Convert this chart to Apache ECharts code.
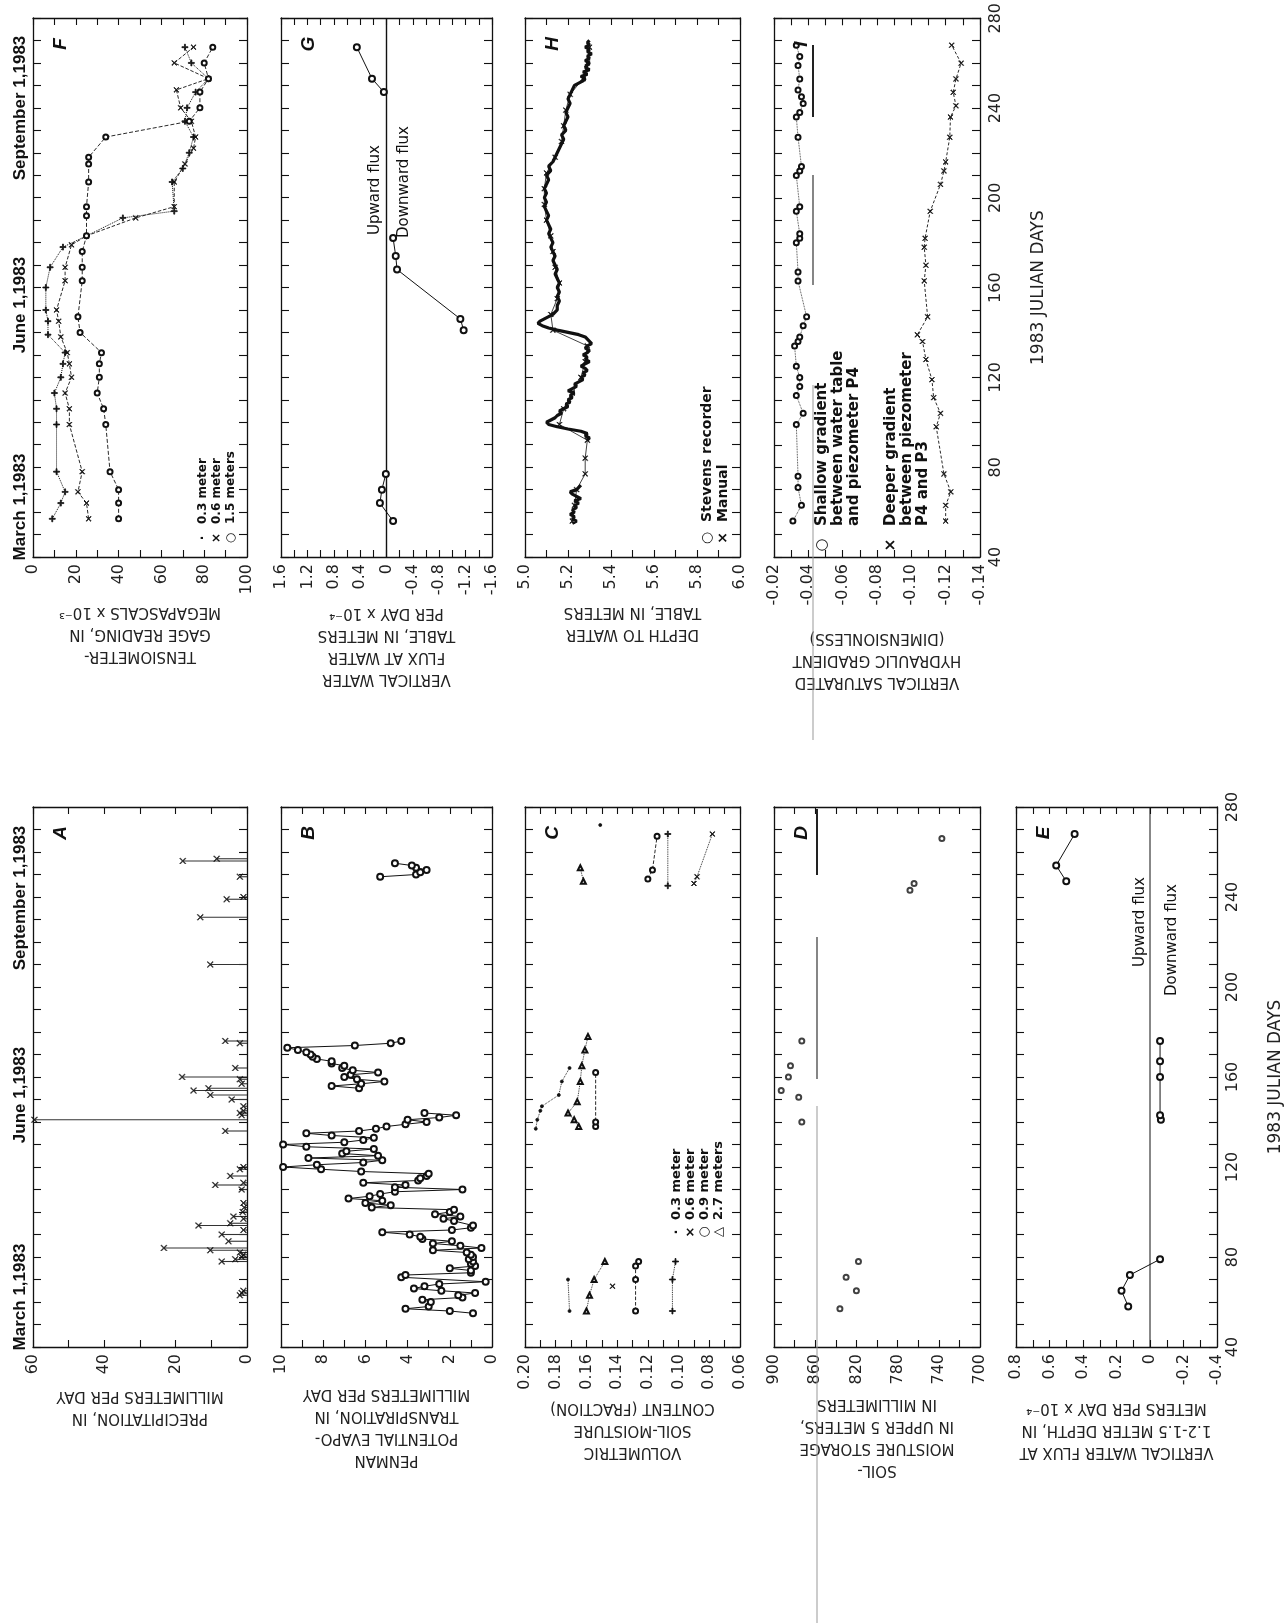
<!DOCTYPE html>
<html><head><meta charset="utf-8">
<script src="https://cdn.jsdelivr.net/npm/echarts@6/dist/echarts.min.js"></script>
<style>html,body{margin:0;padding:0;background:#fff}#c{width:1285px;height:1623px}</style>
</head><body><div id="c"></div>
<script>
// ---------------- DATA (pairs are [julianDay, value]; null = break in line) ----------------
const dayAxis = {min: 40, max: 280, step: 40};

// A  precipitation, mm/day
const precipA = [[63,2.0],[64,1.5],[65,1.0],[78,7.1],[79,3.3],[80,1.5],[81,1.0],[82,2.0],[83,10.3],[84,23.3],[87,5.2],[90,7.1],[92,1.0],[94,13.6],[95,4.7],[97,1.0],[98,3.8],[100,1.2],[102,0.8],[104,1.0],[110,1.5],[112,8.9],[113,1.0],[116,4.7],[119,2.0],[120,1.0],[136,6.1],[141,59.6],[143,1.5],[144,2.0],[145,1.0],[147,1.0],[150,4.3],[152,10.3],[154,15.0],[155,10.8],[157,1.5],[159,2.0],[160,18.2],[164,3.3],[175,2.0],[176,6.1],[210,10.3],[231,13.1],[239,5.7],[240,1.0],[249,2.0],[256,18.0],[257,8.5]];

// B  Penman potential evapotranspiration, mm/day
const penmanB = [[55,0.9],[56,2.0],[57,4.1],[58,3.0],[60,2.9],[61,3.3],[62,1.4],[63,1.6],[64,0.8],[65,2.4],[66,3.7],[67,3.2],[68,2.5],[69,0.3],[71,4.3],[72,4.1],[73,1.0],[74,1.0],[75,2.0],[76,0.8],[77,1.0],[78,0.9],[79,1.1],[80,0.9],[81,1.0],[82,1.2],[83,2.8],[84,0.5],[85,1.5],[86,2.8],[87,1.9],[88,3.3],[89,3.4],[90,3.9],[91,5.2],[92,1.9],[93,1.0],[94,0.9],
 [96,1.8],[97,2.3],[98,1.5],[99,2.7],[100,2.0],[101,1.8],[102,5.7],[103,4.8],[104,6.0],[105,5.2],[106,6.8],[107,5.8],[108,5.3],[109,4.6],[110,1.4],[111,4.6],[112,4.1],[113,6.1],[114,3.5],[115,3.4],[116,3.1],[117,3.0],[118,6.2],[119,8.1],[120,9.9],[121,8.3],[122,6.1],[123,5.2],[124,8.7],[125,5.4],[126,7.1],[127,6.9],[128,5.6],[129,8.8],[130,9.9],[131,7.0],[132,6.1],[133,5.6],[134,7.6],[135,8.8],[136,6.3],[137,5.5],[138,5.0],[139,4.1],[140,3.1],[141,4.0],[142,2.5],[143,1.7],[144,3.2],
 null,[155,6.3],[156,7.6],[157,6.2],[158,5.1],[159,6.4],[160,7.0],[161,6.7],[162,5.4],[163,6.6],[164,7.1],[165,7.0],[166,7.6],[167,7.6],[168,8.3],[169,8.5],[170,8.6],[171,8.8],[172,9.2],[173,9.7],[174,6.5],[175,4.8],[176,4.3],
 null,[249,5.3],[250,3.6],[251,3.4],[252,3.1],[253,3.6],[254,3.8],[255,4.6]];

// C  volumetric soil-moisture content (fraction)
const soilDot    = [[56,0.171],[70,0.172],null,[137,0.193],[141,0.192],[145,0.190],[147,0.189],[152,0.178],[158,0.176],[164,0.171],null,[272,0.151]];
const soilCross  = [[67,0.143],null,[246,0.090],[249,0.088],[268,0.078]];
const soilCircle = [[56,0.128],[70,0.128],[76,0.128],[78,0.126],null,[138,0.154],[140,0.154],[162,0.154],null,[248,0.120],[252,0.117],[267,0.114]];
const soilTri    = [[56,0.160],[63,0.158],[70,0.155],[78,0.148],null,[138,0.165],[141,0.168],[144,0.172],[149,0.166],[158,0.164],[165,0.163],[172,0.161],[178,0.159],null,[247,0.162],[253,0.164]];
const soilPlus   = [[56,0.104],[70,0.104],[78,0.102],null,[245,0.107],[268,0.107]];

// D  soil-moisture storage in upper 5 m, mm
const storageD = [[57,836],[65,820],[71,830],[78,818],[140,873],[151,876],[154,893],[160,886],[165,884],[176,873],[243,768],[246,764],[266,737]];

// E  vertical water flux at 1.2-1.5 m, m/day x 1e-4
const fluxE = [[58,0.13],[65,0.17],[72,0.12],[79,-0.06],null,[141,-0.065],[143,-0.06],[160,-0.06],[167,-0.06],[176,-0.06],null,[247,0.50],[254,0.56],[268,0.45]];

// F  tensiometer gage reading, MPa x 1e-3
const tens03 = [[57,9],[64,13],[69,15],[78,11],[99,11],[106,11],[113,10],[120,13],[126,14],[131,15],[139,7],[145,7],[150,6],[160,6],[169,8],[178,14],[183,25],[191,42],[194,66],[207,65],[213,70],[220,73],[227,75],[234,71],[240,72],[247,76],[253,82],[260,74],[267,71]];
const tens06 = [[57,26],[64,25],[69,21],[78,23],[99,17],[106,17],[113,15],[120,18],[126,17],[131,16],[138,13],[145,12],[150,11],[163,15],[169,15],[179,18],[183,25],[191,48],[196,66],[207,66],[215,71],[222,75],[227,76],[234,74],[240,69],[248,67],[253,82],[260,66],[267,75]];
const tens15 = [[57,40],[64,40],[70,40],[78,36],[99,34],[106,33],[113,30],[120,31],[126,31],[131,32],[140,22],[147,21],[163,23],[169,23],[176,23],[183,25],[192,25],[196,25],[207,26],[215,26],[218,26],[227,34],[234,73],[240,78],[247,78],[253,82],[260,80],[267,84]];

// G  vertical water flux at water table, m/day x 1e-4
const fluxG = [[56,-0.10],[64,0.10],[70,0.07],[77,0.01],null,[141,-1.17],[146,-1.12],[168,-0.16],[174,-0.14],[182,-0.10],null,[247,0.04],[253,0.22],[267,0.45]];

// H  depth to water table, m
const depthRecorder = [[55,5.22],[56,5.24],[57,5.22],[58,5.23],[59,5.21],[60,5.23],[61,5.22],[62,5.24],[63,5.23],[64,5.25],[65,5.23],[66,5.26],[67,5.24],[68,5.22],[69,5.21],[70,5.24],[71,5.25],[72,5.26],null,
 [92,5.29],[93,5.30],[94,5.28],[95,5.29],[96,5.26],[97,5.20],[98,5.15],[99,5.11],[100,5.10],[101,5.12],[102,5.14],[103,5.15],[104,5.17],[105,5.16],[106,5.18],[107,5.20],[108,5.19],[109,5.21],[110,5.20],[111,5.22],[112,5.21],[113,5.23],[114,5.20],[115,5.22],[116,5.24],[117,5.23],[118,5.25],[119,5.27],[120,5.26],[121,5.28],[122,5.27],[123,5.29],[124,5.28],[125,5.26],[126,5.28],[127,5.30],[128,5.28],[129,5.29],[130,5.27],[131,5.29],[132,5.30],[133,5.28],[134,5.29],[135,5.31],[136,5.30],[137,5.29],[138,5.28],[139,5.25],[140,5.20],[141,5.15],[142,5.11],[143,5.08],[144,5.06],[145,5.07],[146,5.09],[147,5.11],[148,5.13],[149,5.14],[150,5.15],[152,5.15],[154,5.16],[156,5.15],[158,5.16],[160,5.15],[162,5.16],[164,5.15],[166,5.14],[168,5.15],[170,5.14],[172,5.13],[174,5.14],[176,5.13],[178,5.12],[180,5.13],[182,5.12],[184,5.11],[186,5.12],[188,5.11],[190,5.10],[192,5.11],[194,5.10],[196,5.09],[198,5.10],[200,5.09],[202,5.10],[204,5.09],[206,5.10],[208,5.11],[210,5.10],[212,5.12],[214,5.11],[216,5.13],[218,5.14],[220,5.15],[222,5.16],[224,5.17],[226,5.18],[228,5.17],[230,5.19],[232,5.18],[234,5.19],[236,5.20],[238,5.19],[240,5.20],[242,5.21],[244,5.20],[246,5.21],[248,5.22],[250,5.23],[251,5.25],[252,5.27],[253,5.28],[254,5.26],[255,5.29],[256,5.27],[257,5.30],[258,5.28],[259,5.29],[260,5.30],[261,5.28],[262,5.30],[263,5.29],[264,5.31],[265,5.29],[266,5.30],[267,5.28],[268,5.30],[269,5.29],[270,5.30]];
const depthManual = [[56,5.22],[63,5.23],[70,5.24],[77,5.28],[84,5.28],[92,5.29],[99,5.16],[106,5.18],[113,5.22],[120,5.26],[127,5.28],[134,5.29],[141,5.13],[148,5.12],[155,5.15],[162,5.16],[169,5.14],[176,5.13],[183,5.12],[190,5.10],[197,5.09],[204,5.09],[211,5.10],[218,5.14],[225,5.17],[232,5.18],[239,5.19],[246,5.21],[253,5.27],[260,5.29],[267,5.30]];

// I  vertical saturated hydraulic gradient
const gradShallow = [[56,-0.031],[63,-0.036],[71,-0.034],[76,-0.034],[99,-0.033],[104,-0.037],[112,-0.033],[116,-0.035],[120,-0.035],[125,-0.033],[134,-0.032],[136,-0.034],[138,-0.035],[143,-0.037],[147,-0.039],[163,-0.034],[167,-0.034],[180,-0.033],[182,-0.035],[184,-0.035],[194,-0.033],[196,-0.035],[210,-0.033],[212,-0.035],[214,-0.036],[227,-0.034],[236,-0.033],[238,-0.035],[242,-0.037],[245,-0.036],[248,-0.034],[253,-0.035],[259,-0.034],[263,-0.035],[268,-0.033]];
const gradDeep = [[56,-0.120],[63,-0.120],[69,-0.123],[77,-0.119],[98,-0.1145],[104,-0.117],[111,-0.113],[119,-0.112],[128,-0.1085],[136,-0.1065],[139,-0.1035],[147,-0.1095],[163,-0.1075],[170,-0.1085],[178,-0.1075],[182,-0.108],[194,-0.111],[206,-0.117],[212,-0.119],[216,-0.120],[227,-0.1224],[236,-0.1228],[241,-0.126],[247,-0.1244],[253,-0.126],[260,-0.129],[268,-0.1235]];

const zeroLine = [[40,0],[280,0]];

// ---------------- LAYOUT ----------------
const INK = '#111';
const COLS = [[33,247],[281,492],[525,740],[774,980],[1016,1222]];
const ROWY = {top:[18,557], bottom:[807,1347]};
const FONT = '"DejaVu Sans", sans-serif';

const panels = [
 {key:'A', row:'bottom', col:0, min:0, max:60, step:20, minor:2, inverse:true, dec:0, gap:38,
  name:'PRECIPITATION, IN\nMILLIMETERS PER DAY'},
 {key:'B', row:'bottom', col:1, min:0, max:10, step:2, minor:2, inverse:true, dec:0, gap:36,
  name:'PENMAN\nPOTENTIAL EVAPO-\nTRANSPIRATION, IN\nMILLIMETERS PER DAY'},
 {key:'C', row:'bottom', col:2, min:0.06, max:0.20, step:0.02, minor:2, inverse:true, dec:2, gap:50,
  name:'VOLUMETRIC\nSOIL-MOISTURE\nCONTENT (FRACTION)'},
 {key:'D', row:'bottom', col:3, min:700, max:900, step:20, minor:0, inverse:true, dec:0, gap:46, every:40,
  name:'SOIL-\nMOISTURE STORAGE\nIN UPPER 5 METERS,\nIN MILLIMETERS'},
 {key:'E', row:'bottom', col:4, min:-0.4, max:0.8, step:0.2, minor:2, inverse:true, dec:1, gap:50, days:true,
  name:'VERTICAL WATER FLUX AT\n1.2-1.5 METER DEPTH, IN\nMETERS PER DAY x 10\u207B\u2074'},
 {key:'F', row:'top', col:0, min:0, max:100, step:20, minor:2, inverse:false, dec:0, gap:44,
  name:'TENSIOMETER-\nGAGE READING, IN\nMEGAPASCALS x 10\u207B\u00B3'},
 {key:'G', row:'top', col:1, min:-1.6, max:1.6, step:0.4, minor:2, inverse:true, dec:1, gap:45,
  name:'VERTICAL WATER\nFLUX AT WATER\nTABLE, IN METERS\nPER DAY x 10\u207B\u2074'},
 {key:'H', row:'top', col:2, min:5, max:6, step:0.2, minor:2, inverse:false, dec:1, gap:44,
  name:'DEPTH TO WATER\nTABLE, IN METERS'},
 {key:'I', row:'top', col:3, min:-0.14, max:-0.02, step:0.02, minor:2, inverse:true, dec:2, gap:70, days:true,
  name:'VERTICAL SATURATED\nHYDRAULIC GRADIENT\n(DIMENSIONLESS)'}
];
const PI = {}; panels.forEach((p,i)=>PI[p.key]=i);

const axisLineStyle = {color: INK, width: 1.3};
const tickStyle = {color: INK, width: 1.1};

const grids = [], xAxes = [], yAxes = [];
panels.forEach((p, i) => {
  const c = COLS[p.col], r = ROWY[p.row];
  grids.push({left: c[0], top: r[0], width: c[1]-c[0], height: r[1]-r[0], containLabel: false});
  const fmt = v => {
    if (p.every && Math.round(v - p.min) % p.every !== 0) return '';
    if (Math.abs(v) < 1e-9) return '0';
    return (p.key === 'G' || p.key === 'E') ? String(Math.round(v*10)/10) : v.toFixed(p.dec);
  };
  const base = {type:'value', gridIndex:i, min:p.min, max:p.max, interval:p.step, inverse:p.inverse,
    axisLine:{show:true, onZero:false, lineStyle:axisLineStyle},
    axisTick:{show:true, inside:true, length:7, lineStyle:tickStyle},
    minorTick:{show:p.minor>0, splitNumber:p.minor||2, length:7, lineStyle:tickStyle},
    splitLine:{show:false}, minorSplitLine:{show:false}};
  xAxes.push(Object.assign({}, base, {position:'bottom',
    axisLabel:{show:true, rotate:90, margin:7, fontSize:16, color:'#222', fontFamily:FONT, formatter:fmt, showMinLabel:true, showMaxLabel:true},
    name:p.name, nameLocation:'middle', nameRotate:180, nameGap:p.gap,
    nameTextStyle:{fontSize:15, lineHeight:22, color:'#222', fontFamily:FONT, align:'center'}}));
  xAxes.push(Object.assign({}, base, {position:'top', axisLabel:{show:false}}));
  const ybase = {type:'value', gridIndex:i, min:dayAxis.min, max:dayAxis.max, interval:dayAxis.step,
    axisLine:{show:true, onZero:false, lineStyle:axisLineStyle},
    axisTick:{show:true, inside:true, length:8, lineStyle:tickStyle},
    minorTick:{show:true, splitNumber:4, length:8, lineStyle:tickStyle},
    splitLine:{show:false}};
  yAxes.push(Object.assign({}, ybase, {position:'left', axisLabel:{show:false}}));
  yAxes.push(Object.assign({}, ybase, {position:'right',
    axisLabel:{show:!!p.days, rotate:90, margin:8, fontSize:16, color:'#222', fontFamily:FONT, showMinLabel:true, showMaxLabel:true},
    name:p.days ? '1983 JULIAN DAYS' : '', nameLocation:'middle', nameRotate:90, nameGap:50,
    nameTextStyle:{fontSize:17, color:'#222', fontFamily:FONT}}));
});

// ---------------- SERIES ----------------
const PLUS = 'path://M4.2,0H5.8V4.2H10V5.8H5.8V10H4.2V5.8H0V4.2H4.2Z';
const CROSS = 'path://M0.8,0L5,4.2L9.2,0L10,0.8L5.8,5L10,9.2L9.2,10L5,5.8L0.8,10L0,9.2L4.2,5L0,0.8Z';

function segments(arr){
  const out = []; let cur = [];
  arr.forEach(p => { if (p === null) { if (cur.length) out.push(cur); cur = []; } else cur.push([p[1], p[0]]); });
  if (cur.length) out.push(cur);
  return out;
}
const series = [];
function addLine(key, arr, o){
  const i = PI[key];
  segments(arr).forEach(seg => {
    series.push({type:'line', xAxisIndex:i*2, yAxisIndex:i*2, data:seg, animation:false, silent:true,
      symbol:o.symbol || 'emptyCircle', symbolSize:o.size || 6, showSymbol:o.symbol !== 'none',
      lineStyle:{color:INK, width:o.width==null?0.9:o.width, type:o.dash||'solid'},
      itemStyle:{color:INK, borderColor:INK, borderWidth:o.bw==null?0.8:o.bw}, z:o.z||2});
  });
}
function addScatter(key, arr, o){
  const i = PI[key];
  series.push({type:'scatter', xAxisIndex:i*2, yAxisIndex:i*2, data:segments(arr).flat(), animation:false, silent:true,
    symbol:o.symbol||'emptyCircle', symbolSize:o.size||6, itemStyle:{color:INK, borderColor:INK, borderWidth:0.8}});
}

// A bars + x markers
series.push({type:'custom', coordinateSystem:'cartesian2d', xAxisIndex:PI.A*2, yAxisIndex:PI.A*2,
  data: precipA.map(p => [p[1], p[0]]), animation:false, silent:true,
  renderItem: (params, api) => {
    const v = api.value(0), d = api.value(1);
    const a = api.coord([0, d]), b = api.coord([v, d]);
    return {type:'line', shape:{x1:a[0], y1:a[1], x2:b[0], y2:b[1]}, style:{stroke:'#333', lineWidth:1.1}};
  }});
addScatter('A', precipA, {symbol:CROSS, size:6});

// B
addLine('B', penmanB, {symbol:'emptyCircle', size:6, width:1});

// C
addLine('C', soilDot, {symbol:'circle', size:3, dash:'dotted', width:0.9});
addLine('C', soilCross, {symbol:CROSS, size:5, dash:'dotted', width:0.9});
addLine('C', soilCircle, {symbol:'emptyCircle', size:5, dash:'dashed', width:0.9});
addLine('C', soilTri, {symbol:'emptyTriangle', size:5, dash:'dotted', width:0.9});
addLine('C', soilPlus, {symbol:PLUS, size:6, dash:'dotted', width:0.9});

// D
addScatter('D', storageD, {symbol:'emptyCircle', size:5});

// E
addLine('E', zeroLine, {symbol:'none', width:1});
addLine('E', fluxE, {symbol:'emptyCircle', size:6, width:1});

// F
addLine('F', tens03, {symbol:PLUS, size:6, dash:'dotted', width:1});
addLine('F', tens06, {symbol:CROSS, size:5, dash:'dashed', width:0.9});
addLine('F', tens15, {symbol:'emptyCircle', size:5, dash:[4,2], width:0.9});

// G
addLine('G', zeroLine, {symbol:'none', width:1.4});
addLine('G', fluxG, {symbol:'emptyCircle', size:6, width:1});

// H
addLine('H', depthManual, {symbol:CROSS, size:5, width:0.8});
addLine('H', depthRecorder, {symbol:'none', width:3.2, z:3});

// I
addLine('I', gradShallow, {symbol:'emptyCircle', size:5, dash:'dotted', width:0.8});
addLine('I', gradDeep, {symbol:CROSS, size:5, dash:[3,2], width:0.9});

// ---------------- ANNOTATIONS ----------------
function vtext(x, y, text, font, align){
  return {type:'text', x:x, y:y, rotation:Math.PI/2, silent:true, z:10,
    style:{text:text, font:font, fill:INK, align:align||'center', verticalAlign:'middle', textAlign:align||'center', textVerticalAlign:'middle'}};
}
const BOLD = 'bold 17px "Liberation Sans", sans-serif';
const LEG_F = 'bold 12px "DejaVu Sans", sans-serif';
const LEG_H = 'bold 14px "DejaVu Sans", sans-serif';
const LEG_I = 'bold 15px "DejaVu Sans", sans-serif';
const LEG_C = 'bold 13px "DejaVu Sans", sans-serif';
const LETTER = 'italic bold 19px "Liberation Sans", sans-serif';
const FLUX = '15px "DejaVu Sans", sans-serif';
const graphic = [];
[0, 790].forEach(off => {
  graphic.push(vtext(20, 507+off, 'March 1,1983', BOLD));
  graphic.push(vtext(20, 305+off, 'June 1,1983', BOLD));
  graphic.push(vtext(20, 108+off, 'September 1,1983', BOLD));
});
panels.forEach(p => {
  const c = COLS[p.col], r = ROWY[p.row];
  graphic.push(vtext(c[0]+28, r[0]+26, p.key, LETTER));
});
// F legend
[['\u00B7', '0.3 meter'], ['\u00D7', '0.6 meter'], ['\u25CB', '1.5 meters']].forEach((l, k) => {
  graphic.push(vtext(203+k*14, 538, l[0], LEG_F));
  graphic.push(vtext(203+k*14, 524, l[1], LEG_F, 'left'));
});
// H legend
graphic.push(vtext(707, 538, '\u25CB', LEG_H)); graphic.push(vtext(707, 522, 'Stevens recorder', LEG_H, 'left'));
graphic.push(vtext(723, 538, '\u00D7', LEG_H)); graphic.push(vtext(723, 522, 'Manual', LEG_H, 'left'));
// I legend
graphic.push(vtext(822, 545, '\u25CB', LEG_I));
['Shallow gradient','between water table','and piezometer P4'].forEach((t,k)=>graphic.push(vtext(822+k*16, 526, t, LEG_I, 'left')));
graphic.push(vtext(891, 545, '\u00D7', LEG_I));
['Deeper gradient','between piezometer','P4 and P3'].forEach((t,k)=>graphic.push(vtext(891+k*16, 526, t, LEG_I, 'left')));
// C legend
[['\u00B7','0.3 meter'],['\u00D7','0.6 meter'],['\u25CB','0.9 meter'],['\u25B3','2.7 meters']].forEach((l,k)=>{
  graphic.push(vtext(677+k*14, 1232, l[0], LEG_C));
  graphic.push(vtext(677+k*14, 1220, l[1], LEG_C, 'left'));
});
// flux labels
graphic.push(vtext(375, 235, 'Upward flux', FLUX, 'left'));
graphic.push(vtext(404, 238, 'Downward flux', FLUX, 'left'));
graphic.push(vtext(1140, 967, 'Upward flux', FLUX, 'left'));
graphic.push(vtext(1172, 996, 'Downward flux', FLUX, 'left'));
// scan fold line running through the page
function vline(x, y1, y2, w, col){ return {type:'line', silent:true, z:9, shape:{x1:x, y1:y1, x2:x, y2:y2}, style:{stroke:col, lineWidth:w}}; }
graphic.push(vline(813, 45, 117, 2, '#222'));
graphic.push(vline(813, 175, 285, 1.3, '#444'));
graphic.push(vline(813, 385, 740, 1, '#999'));
graphic.push(vline(817, 809, 875, 2, '#222'));
graphic.push(vline(817, 937, 1079, 1.3, '#444'));
graphic.push(vline(817, 1106, 1623, 1, '#999'));

const chart = echarts.init(document.getElementById('c'), null, {renderer:'canvas', width:1285, height:1623});
chart.setOption({backgroundColor:'#fff', animation:false, grid:grids, xAxis:xAxes, yAxis:yAxes, series:series, graphic:graphic});
</script></body></html>
